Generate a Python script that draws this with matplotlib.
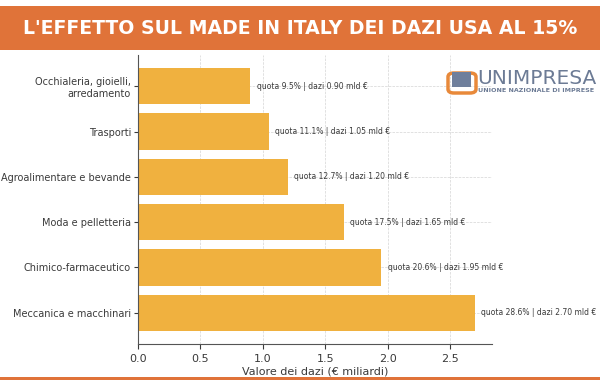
import matplotlib.pyplot as plt
from matplotlib.patches import Rectangle, FancyBboxPatch

# dati
settori = ["Occhialeria, gioielli,\narredamento", "Trasporti", "Agroalimentare e bevande",
           "Moda e pelletteria", "Chimico-farmaceutico", "Meccanica e macchinari"]
dazi = [0.90, 1.05, 1.20, 1.65, 1.95, 2.70]
quote = [9.5, 11.1, 12.7, 17.5, 20.6, 28.6]

ORANGE = "#E07339"
BAR = "#F0B13F"
TXT = "#3a3a3a"

fig = plt.figure(figsize=(6, 3.91), dpi=100)
fig.patch.set_facecolor("white")

# header
fig.patches.append(Rectangle((0, 1 - 50 / 391), 1, 44 / 391, transform=fig.transFigure,
                             facecolor=ORANGE, edgecolor="none", zorder=0))
fig.text(0.5, 1 - 28 / 391, "L'EFFETTO SUL MADE IN ITALY DEI DAZI USA AL 15%",
         ha="center", va="center", color="white", fontsize=13.6, fontweight="bold",
         family="DejaVu Sans")
# linea in basso
fig.patches.append(Rectangle((0, 1 - 380 / 391), 1, 3 / 391, transform=fig.transFigure,
                             facecolor=ORANGE, edgecolor="none", zorder=0))

ax = fig.add_axes([138 / 600, 1 - 344 / 391, (491.7 - 138) / 600, (344 - 55) / 391])
y = list(range(len(settori)))
ax.barh(y, dazi, height=0.8, color=BAR, zorder=2)
ax.invert_yaxis()
ax.set_yticks(y)
ax.set_yticklabels(settori, fontsize=7.0, color=TXT)
ax.set_xlim(0, 2.835)
ax.set_xticks([0, 0.5, 1.0, 1.5, 2.0, 2.5])
ax.tick_params(axis="x", labelsize=8, colors=TXT)
ax.tick_params(axis="y", colors=TXT, length=3, pad=2)
ax.set_xlabel("Valore dei dazi (€ miliardi)", fontsize=8, color=TXT, labelpad=2)
ax.grid(True, linestyle="--", linewidth=0.5, color="#d5d5d5", zorder=0)
ax.set_axisbelow(True)
for s in ["top", "right"]:
    ax.spines[s].set_visible(False)
for s in ["left", "bottom"]:
    ax.spines[s].set_color("#555555")

for yi, v, q in zip(y, dazi, quote):
    ax.text(v + 0.05, yi, f"quota {q:.1f}% | dazi {v:.2f} mld €", va="center",
            fontsize=5.5, color=TXT, zorder=3)

# logo
fig.patches.append(FancyBboxPatch((448 / 600, 1 - 93 / 391), 28 / 600, 20 / 391,
                                  boxstyle="round,pad=0,rounding_size=0.01",
                                  transform=fig.transFigure, facecolor="none",
                                  edgecolor="#E8893A", linewidth=2.5))
fig.patches.append(Rectangle((452 / 600, 1 - 87 / 391), 19 / 600, 15 / 391,
                             transform=fig.transFigure, facecolor="#6F7F9C", edgecolor="none"))
fig.text(477 / 600, 1 - 79 / 391, "UNIMPRESA", fontsize=14.5, color="#6C7B95",
         va="center", ha="left", family="DejaVu Sans")
fig.text(478 / 600, 1 - 90 / 391, "UNIONE NAZIONALE DI IMPRESE", fontsize=4.6,
         color="#6C7B95", va="center", ha="left", fontweight="bold")

fig.savefig("out.png", dpi=100)
